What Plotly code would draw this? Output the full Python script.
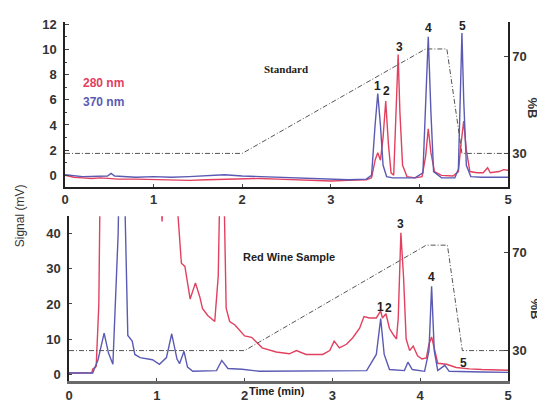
import plotly.graph_objects as go

# ---------------- data ----------------
# Standard, 280 nm (red)
std_280_t = [0, 0.1, 0.2, 0.3, 0.4, 0.5, 0.6, 0.8, 1.0, 1.2, 1.4, 1.6, 1.8, 2.0, 2.2, 2.4, 2.6, 2.8, 3.0, 3.2,
             3.4, 3.46, 3.5, 3.53, 3.56, 3.59, 3.62, 3.65, 3.68, 3.71, 3.74, 3.76, 3.78, 3.81, 3.86, 3.95, 4.03,
             4.07, 4.10, 4.13, 4.17, 4.25, 4.38, 4.44, 4.47, 4.50, 4.53, 4.57, 4.65, 4.72, 4.77, 4.80, 4.9, 4.95, 5.0]
std_280_v = [0, -0.15, -0.2, -0.25, -0.2, -0.25, -0.3, -0.3, -0.35, -0.35, -0.4, -0.35, -0.3, -0.3, -0.25, -0.3,
             -0.35, -0.4, -0.45, -0.4, -0.35, -0.2, 1.2, 1.8, 1.2, 3.0, 5.9, 2.5, 0.2, 0.0, 5.0, 9.6, 5.0, 0.8,
             -0.1, -0.2, -0.1, 1.5, 3.7, 1.8, 0.3, 0.0, -0.05, 0.3, 2.5, 4.3, 2.0, 0.3, 0.2, 0.2, 0.6, 0.2, 0.3,
             0.45, 0.4]

# Standard, 370 nm (blue)
std_370_t = [0, 0.2, 0.48, 0.52, 0.56, 0.8, 1.0, 1.2, 1.4, 1.6, 1.8, 2.0, 2.2, 2.4, 2.6, 2.8, 3.0, 3.2, 3.4,
             3.46, 3.50, 3.53, 3.56, 3.59, 3.63, 3.7, 3.8, 3.95, 4.04, 4.07, 4.10, 4.13, 4.16, 4.25, 4.40, 4.44,
             4.46, 4.48, 4.50, 4.53, 4.58, 4.7, 5.0]
std_370_v = [0.05, -0.1, -0.05, 0.15, -0.05, -0.15, -0.1, -0.15, -0.1, 0.0, 0.05, -0.05, -0.1, -0.15, -0.25,
             -0.3, -0.35, -0.35, -0.3, 0.0, 4.0, 6.5, 4.0, 0.8, -0.1, -0.2, -0.2, -0.2, 0.2, 6.0, 11.0, 5.0, 0.3,
             -0.2, -0.2, 0.5, 6.0, 11.3, 6.0, 0.8, -0.1, -0.15, -0.15]

# Red wine sample, 280 nm (red)
wine_280_t = [0, 0.1, 0.2, 0.26, 0.27, 0.31, 0.34, 0.37, 0.5, 0.8, 1.0, 1.04, 1.06, 1.08, 1.2, 1.24, 1.28, 1.32,
              1.38, 1.44, 1.49, 1.52, 1.58, 1.66, 1.70, 1.73, 1.76, 1.79, 1.83, 1.89, 1.94, 2.0, 2.08, 2.2, 2.36,
              2.51, 2.59, 2.7, 2.89, 2.97, 3.02, 3.08, 3.16, 3.23, 3.31, 3.36, 3.42, 3.5, 3.55, 3.57, 3.61, 3.65,
              3.7, 3.73, 3.75, 3.78, 3.81, 3.84, 3.88, 3.92, 3.97, 4.02, 4.07, 4.10, 4.13, 4.16, 4.2, 4.3, 4.41,
              4.56, 4.7, 5.0]
wine_280_v = [0.3, 0.3, 0.35, 0.4, 1.4, 2.2, 20, 90, 120, 100, 70, 55, 43.5, 55, 60, 45, 31.6, 30.7, 21.4, 26,
              22, 18.7, 16.7, 15, 28, 70, 60, 18.8, 15, 14, 12.7, 10.9, 10.5, 7.5, 6.3, 5.8, 6.7, 5.6, 5.6, 6.7,
              9.4, 7.5, 8.5, 10.3, 13.1, 16.4, 16, 16, 18, 16, 17.2, 13, 11, 10, 16, 40.3, 27.8, 10, 6.7, 8, 5.2,
              4.3, 4.6, 8.5, 10.6, 7.5, 3.1, 2.8, 1.9, 1.5, 1.3, 1.1]

# Red wine sample, 370 nm (blue)
wine_370_t = [0, 0.27, 0.33, 0.40, 0.45, 0.5, 0.56, 0.60, 0.64, 0.67, 0.72, 0.75, 0.81, 0.89, 0.95, 1.03, 1.11,
              1.17, 1.23, 1.26, 1.31, 1.35, 1.41, 1.68, 1.74, 1.81, 1.97, 2.17, 2.6, 3.0, 3.39, 3.5, 3.55, 3.59,
              3.65, 3.82, 3.86, 3.91, 4.05, 4.10, 4.13, 4.16, 4.2, 4.28, 4.33, 4.7, 5.0]
wine_370_v = [0.3, 0.3, 4.0, 11.7, 6.0, 2.8, 40, 100, 45, 11, 9.4, 5.6, 4.7, 4.3, 4.1, 2.8, 4.7, 11.5, 4.3, 3.0,
              6.5, 2.0, 0.8, 1.0, 3.9, 1.6, 1.4, 0.8, 0.8, 0.9, 1.0, 5.6, 15.8, 5.6, 1.3, 1.0, 3.4, 1.3, 0.8, 6.7,
              25, 6.7, 1.0, 2.5, 0.8, 0.6, 0.5]

# Mobile-phase gradient (%B)
grad_t = [0, 2.0, 4.07, 4.31, 4.48, 5.0]
grad_b = [30, 30, 73, 73, 30, 30]

x_ticks = [0, 1, 2, 3, 4, 5]
std_yticks = [0, 2, 4, 6, 8, 10, 12]
wine_yticks = [0, 10, 20, 30, 40]
b_ticks = [30, 70]

std_peaks = ["1", "2", "3", "4", "5"]
std_peak_x = [3.53, 3.625, 3.77, 4.10, 4.49]
std_peak_y = [7.1, 6.7, 10.2, 11.7, 11.86]
wine_peaks = ["1", "2", "3", "4", "5"]
wine_peak_x = [3.55, 3.64, 3.78, 4.13, 4.49]
wine_peak_y = [19.2, 18.9, 42.8, 27.8, 3.3]

# ---------------- style ----------------
RED = "#e2405f"
BLUE = "#5a5ab4"
GRAD = "#555555"
FONT = "Liberation Sans"
TXT = "#222222"

fig = go.Figure()

fig.add_trace(go.Scatter(x=std_280_t, y=std_280_v, mode="lines", line=dict(color=RED, width=1.4),
                         xaxis="x", yaxis="y", showlegend=False))
fig.add_trace(go.Scatter(x=std_370_t, y=std_370_v, mode="lines", line=dict(color=BLUE, width=1.4),
                         xaxis="x", yaxis="y", showlegend=False))
fig.add_trace(go.Scatter(x=grad_t, y=grad_b, mode="lines",
                         line=dict(color=GRAD, width=1, dash="5px,2px,1px,2px"),
                         xaxis="x", yaxis="y2", showlegend=False))

fig.add_trace(go.Scatter(x=wine_280_t, y=wine_280_v, mode="lines", line=dict(color=RED, width=1.4),
                         xaxis="x2", yaxis="y3", showlegend=False))
fig.add_trace(go.Scatter(x=wine_370_t, y=wine_370_v, mode="lines", line=dict(color=BLUE, width=1.4),
                         xaxis="x2", yaxis="y3", showlegend=False))
fig.add_trace(go.Scatter(x=grad_t, y=grad_b, mode="lines",
                         line=dict(color=GRAD, width=1, dash="5px,2px,1px,2px"),
                         xaxis="x2", yaxis="y4", showlegend=False))

tickfont = dict(family=FONT, size=13, color="#333333", weight="bold")

xcommon = dict(range=[0, 5], tickvals=x_ticks, showline=True, ticks="inside", ticklen=3,
               showgrid=False, zeroline=False, tickfont=tickfont)

annotations = []
for t, x, y in zip(std_peaks, std_peak_x, std_peak_y):
    annotations.append(dict(text=t, x=x, y=y, xref="x", yref="y", showarrow=False,
                            xanchor="center", yanchor="middle",
                            font=dict(family=FONT, size=12, color=TXT, weight="bold")))
for t, x, y in zip(wine_peaks, wine_peak_x, wine_peak_y):
    annotations.append(dict(text=t, x=x, y=y, xref="x2", yref="y3", showarrow=False,
                            xanchor="center", yanchor="middle",
                            font=dict(family=FONT, size=12, color=TXT, weight="bold")))

mid = dict(showarrow=False, xanchor="center", yanchor="middle")
annotations += [
    dict(text="280 nm", x=0.43, y=7.35, xref="x", yref="y", **mid,
         font=dict(family=FONT, size=12, color=RED, weight="bold")),
    dict(text="370 nm", x=0.43, y=5.79, xref="x", yref="y", **mid,
         font=dict(family=FONT, size=12, color=BLUE, weight="bold")),
    dict(text="Standard", x=2.49, y=8.44, xref="x", yref="y", **mid,
         font=dict(family="Liberation Serif", size=11, color=TXT, weight="bold")),
    dict(text="Red Wine Sample", x=2.51, y=33.3, xref="x2", yref="y3", **mid,
         font=dict(family=FONT, size=11, color=TXT, weight="bold")),
    dict(text="Signal (mV)", x=-0.1016, y=0.4617, xref="paper", yref="paper", **mid,
         textangle=-90, font=dict(family=FONT, size=12, color="#333333")),
    dict(text="%B", x=1.056, y=0.7596, xref="paper", yref="paper", **mid,
         textangle=90, font=dict(family=FONT, size=13, color="#333333", weight="bold")),
    dict(text="%B", x=1.063, y=0.1995, xref="paper", yref="paper", **mid,
         textangle=90, font=dict(family=FONT, size=13, color="#333333", weight="bold")),
    dict(text="Time (min)", x=0.4786, y=-0.027, xref="paper", yref="paper", **mid,
         font=dict(family=FONT, size=11, color="#222222", weight="bold")),
]

# the page body adds an 8px margin, so the figure is sized / offset to compensate
fig.update_layout(
    width=537, height=404,
    margin=dict(l=57, r=37, t=9, b=29),
    paper_bgcolor="white", plot_bgcolor="white",
    showlegend=False,
    xaxis=dict(**xcommon, domain=[0, 1], anchor="y", linecolor="#222222", linewidth=2),
    xaxis2=dict(**xcommon, domain=[0.009, 1], anchor="y3", linecolor="#6a6a6a", linewidth=3),
    yaxis=dict(domain=[0.541, 1.0], range=[-0.91, 12.18], tickvals=std_yticks, showline=True,
               linecolor="#222222", linewidth=1.5, ticks="inside", ticklen=4, ticklabelstandoff=4,
               minor=dict(ticks="inside", ticklen=2, dtick=1, tick0=0), showgrid=False, zeroline=False,
               tickfont=tickfont, anchor="x"),
    yaxis2=dict(overlaying="y", side="right", anchor="x", range=[16.26, 84.1], tickvals=b_ticks,
                showline=True, linecolor="#222222", linewidth=1.5, ticks="inside", ticklen=4,
                showgrid=False, zeroline=False, tickfont=tickfont),
    yaxis3=dict(domain=[0, 0.459], range=[-1.96, 45.0], tickvals=wine_yticks, showline=True,
                linecolor="#222222", linewidth=1.5, ticks="inside", ticklen=3, ticklabelstandoff=4,
                showgrid=False, zeroline=False, tickfont=tickfont, anchor="x2"),
    yaxis4=dict(overlaying="y3", side="right", anchor="x2", range=[17.6, 84.8], tickvals=b_ticks,
                showline=True, linecolor="#222222", linewidth=1.5, ticks="inside", ticklen=4,
                showgrid=False, zeroline=False, tickfont=tickfont),
    annotations=annotations,
)

fig.write_html("out.html")
